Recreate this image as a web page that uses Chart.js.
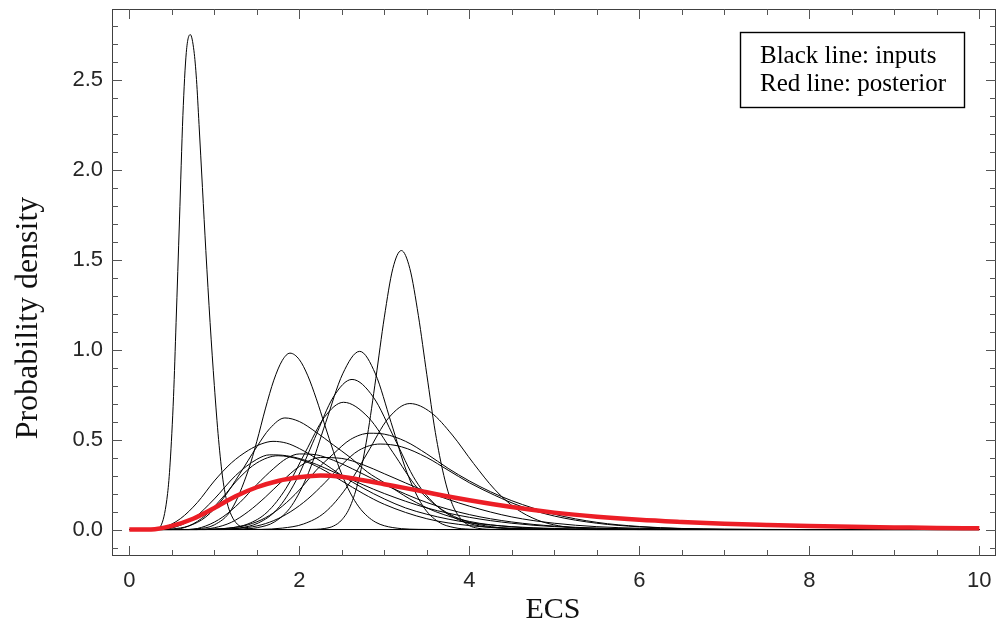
<!DOCTYPE html>
<html>
<head>
<meta charset="utf-8">
<script src="https://cdn.jsdelivr.net/npm/chart.js@4.4.0/dist/chart.umd.min.js"></script>
<style>
html,body{margin:0;padding:0;background:#ffffff;}
canvas{display:block;}
</style>
</head>
<body>
<canvas id="c" width="997" height="623"></canvas>
<script>
// ---------- data ----------
const xTicks = [0, 2, 4, 6, 8, 10];
const xMinorTicks = [0.5, 1, 1.5, 2.5, 3, 3.5, 4.5, 5, 5.5, 6.5, 7, 7.5, 8.5, 9, 9.5];
const yTicks = [0, 0.5, 1, 1.5, 2, 2.5];
const yMinorTicks = [-0.1, 0.1, 0.2, 0.3, 0.4, 0.6, 0.7, 0.8, 0.9, 1.1, 1.2, 1.3, 1.4, 1.6, 1.7, 1.8, 1.9, 2.1, 2.2, 2.3, 2.4, 2.6, 2.7, 2.8];

const xLabel = 'ECS';
const yLabel = 'Probability density';
const legendLines = ['Black line: inputs', 'Red line: posterior'];

const posterior = [[0,0],[0.3,0.002],[0.5,0.02],[0.75,0.06],[1.0,0.12],[1.25,0.185],[1.5,0.235],[1.75,0.27],[2.0,0.29],[2.25,0.30],[2.5,0.293],[2.75,0.274],[3.0,0.252],[3.25,0.23],[3.5,0.207],[3.75,0.184],[4.0,0.163],[4.5,0.125],[5.0,0.094],[5.5,0.071],[6.0,0.054],[6.5,0.042],[7.0,0.032],[7.5,0.025],[8.0,0.019],[8.5,0.015],[9.0,0.012],[9.5,0.009],[10,0.007]];

const inputA = [[0,0],[0.3,0],[0.38,0.03],[0.45,0.2],[0.48,0.37],[0.52,0.74],[0.55,1.15],[0.59,1.72],[0.63,2.3],[0.67,2.65],[0.717,2.75],[0.76,2.66],[0.79,2.5],[0.82,2.25],[0.86,1.9],[0.90,1.55],[0.95,1.15],[1.0,0.8],[1.05,0.5],[1.1,0.28],[1.15,0.15],[1.2,0.08],[1.27,0.03],[1.35,0.01],[1.45,0.002],[1.6,0],[10,0]];
const inputB = [[0,0],[0.6,0],[0.8,0.004],[1.0,0.026],[1.2,0.11],[1.4,0.33],[1.5,0.49],[1.6,0.67],[1.7,0.83],[1.8,0.94],[1.89,0.98],[2.0,0.944],[2.1,0.854],[2.2,0.726],[2.3,0.58],[2.4,0.435],[2.5,0.306],[2.6,0.203],[2.7,0.126],[2.8,0.074],[2.9,0.04],[3.0,0.021],[3.2,0.005],[3.4,0.001],[3.6,0],[10,0]];
const inputC = [[0,0],[0.4,0],[0.5,0.003],[0.7,0.02],[0.9,0.07],[1.1,0.17],[1.3,0.31],[1.5,0.46],[1.65,0.56],[1.83,0.62],[2.0,0.60],[2.2,0.54],[2.4,0.47],[2.6,0.40],[2.8,0.32],[3.0,0.26],[3.3,0.17],[3.6,0.10],[4.0,0.045],[4.5,0.015],[5.0,0.004],[5.5,0.001],[6,0],[10,0]];
const inputD = [[0,0],[0.3,0],[0.4,0.01],[0.6,0.06],[0.8,0.15],[1.0,0.27],[1.2,0.37],[1.4,0.44],[1.55,0.475],[1.69,0.49],[1.85,0.48],[2.0,0.45],[2.25,0.38],[2.5,0.30],[2.75,0.23],[3.0,0.17],[3.25,0.12],[3.5,0.085],[3.75,0.058],[4.0,0.038],[4.5,0.016],[5.0,0.006],[5.5,0.002],[6,0],[10,0]];
const inputE1 = [[0,0],[0.4,0],[0.5,0.008],[0.75,0.06],[1.0,0.17],[1.25,0.30],[1.5,0.39],[1.65,0.415],[1.85,0.41],[2.1,0.38],[2.5,0.30],[3.0,0.20],[3.5,0.12],[4.0,0.068],[4.5,0.035],[5.0,0.016],[5.5,0.007],[6.0,0.003],[7,0],[10,0]];
const inputE2 = [[0,0],[0.7,0],[0.9,0.02],[1.1,0.07],[1.3,0.15],[1.5,0.25],[1.7,0.34],[1.85,0.395],[2.0,0.42],[2.2,0.415],[2.4,0.385],[2.7,0.32],[3.0,0.25],[3.5,0.15],[4.0,0.083],[4.5,0.042],[5.0,0.019],[5.5,0.008],[6.0,0.003],[7,0],[10,0]];
const inputE3 = [[0,0],[0.8,0],[1.0,0.01],[1.2,0.04],[1.4,0.10],[1.6,0.18],[1.8,0.27],[2.0,0.35],[2.25,0.40],[2.5,0.395],[2.75,0.36],[3.0,0.31],[3.5,0.21],[4.0,0.13],[4.5,0.07],[5.0,0.035],[5.5,0.016],[6.0,0.007],[6.5,0.003],[7.5,0],[10,0]];
const inputE4 = [[0,0],[0.5,0],[0.7,0.02],[0.9,0.08],[1.1,0.18],[1.3,0.29],[1.5,0.37],[1.75,0.41],[2.0,0.39],[2.25,0.34],[2.5,0.27],[2.75,0.20],[3.0,0.14],[3.5,0.06],[4.0,0.022],[4.5,0.007],[5.0,0.002],[5.5,0],[10,0]];
const inputF = [[0,0],[2.0,0],[2.2,0.0015],[2.3,0.006],[2.4,0.019],[2.5,0.054],[2.6,0.13],[2.7,0.28],[2.8,0.52],[2.9,0.84],[3.0,1.18],[3.1,1.45],[3.2,1.55],[3.3,1.45],[3.4,1.19],[3.5,0.86],[3.6,0.54],[3.7,0.30],[3.8,0.14],[3.9,0.06],[4.0,0.022],[4.1,0.007],[4.2,0.002],[4.4,0],[10,0]];
const inputG = [[0,0],[1.1,0],[1.31,0.002],[1.51,0.011],[1.71,0.043],[1.91,0.133],[2.11,0.318],[2.31,0.594],[2.51,0.865],[2.71,0.99],[2.895,0.865],[3.08,0.594],[3.265,0.318],[3.45,0.133],[3.635,0.043],[3.82,0.011],[4.005,0.002],[4.2,0],[10,0]];
const inputH = [[0,0],[0.9,0],[1.08,0.0018],[1.30,0.009],[1.52,0.037],[1.74,0.113],[1.96,0.271],[2.18,0.506],[2.40,0.736],[2.62,0.834],[2.87,0.736],[3.12,0.506],[3.37,0.271],[3.62,0.13],[3.87,0.055],[4.12,0.02],[4.37,0.007],[4.8,0.001],[5.2,0],[10,0]];
const inputI = [[0,0],[0.8,0],[0.945,0.0016],[1.17,0.008],[1.395,0.031],[1.62,0.096],[1.845,0.23],[2.07,0.429],[2.295,0.624],[2.52,0.707],[2.81,0.624],[3.10,0.429],[3.39,0.23],[3.68,0.11],[3.97,0.045],[4.26,0.016],[4.55,0.005],[5.0,0.001],[5.4,0],[10,0]];
const inputJ = [[0,0],[1.4,0],[1.55,0.001],[1.8,0.008],[2.05,0.031],[2.3,0.095],[2.55,0.23],[2.8,0.425],[3.05,0.62],[3.3,0.70],[3.55,0.65],[3.8,0.525],[4.05,0.367],[4.3,0.222],[4.55,0.116],[4.8,0.053],[5.05,0.021],[5.3,0.007],[5.8,0.0005],[6.2,0],[10,0]];
const inputK = [[0,0],[0.8,0],[1.0,0.002],[1.2,0.009],[1.4,0.027],[1.6,0.065],[1.8,0.13],[2.0,0.22],[2.2,0.33],[2.4,0.42],[2.6,0.50],[2.83,0.535],[3.0,0.53],[3.25,0.49],[3.5,0.42],[3.75,0.34],[4.0,0.27],[4.25,0.21],[4.5,0.16],[5.0,0.085],[5.5,0.04],[6.0,0.017],[6.5,0.006],[7.0,0.002],[8,0],[10,0]];
const inputL = [[0,0],[0.9,0],[1.1,0.002],[1.3,0.007],[1.5,0.02],[1.7,0.05],[1.9,0.10],[2.1,0.17],[2.3,0.26],[2.5,0.36],[2.7,0.44],[2.95,0.475],[3.2,0.46],[3.5,0.40],[3.75,0.33],[4.0,0.26],[4.3,0.19],[4.6,0.13],[5.0,0.075],[5.5,0.035],[6.0,0.015],[6.5,0.005],[7.0,0.001],[8,0],[10,0]];

const inputs = [inputA, inputB, inputC, inputD, inputE1, inputE2, inputE3, inputE4, inputF, inputG, inputH, inputI, inputJ, inputK, inputL];

// ---------- chart ----------
const toPts = arr => arr.map(p => ({x: p[0], y: p[1]}));

const datasets = [{
  label: 'posterior',
  data: toPts(posterior),
  borderColor: 'rgb(236,30,38)',
  borderWidth: 4.5,
  pointRadius: 0,
  cubicInterpolationMode: 'monotone',
  fill: false
}];
inputs.forEach((c, i) => datasets.push({
  label: 'input ' + (i + 1),
  data: toPts(c),
  borderColor: '#000000',
  borderWidth: 1,
  pointRadius: 0,
  cubicInterpolationMode: 'monotone',
  fill: false
}));

const framePlugin = {
  id: 'frameTicks',
  afterDraw(chart) {
    const {ctx, chartArea: a, scales: {x, y}} = chart;
    ctx.save();
    ctx.strokeStyle = '#404040';
    ctx.lineWidth = 1;
    ctx.strokeRect(a.left + 0.5, a.top + 0.5, a.right - a.left - 1, a.bottom - a.top - 1);
    ctx.strokeStyle = '#555555';
    ctx.beginPath();
    const xt = (vals, len) => vals.forEach(v => {
      const px = Math.round(x.getPixelForValue(v)) + 0.5;
      ctx.moveTo(px, a.bottom); ctx.lineTo(px, a.bottom - len);
      ctx.moveTo(px, a.top); ctx.lineTo(px, a.top + len);
    });
    const yt = (vals, len) => vals.forEach(v => {
      const py = Math.round(y.getPixelForValue(v)) + 0.5;
      ctx.moveTo(a.left, py); ctx.lineTo(a.left + len, py);
      ctx.moveTo(a.right, py); ctx.lineTo(a.right - len, py);
    });
    xt(xTicks, 10); xt(xMinorTicks, 6);
    yt(yTicks, 10); yt(yMinorTicks, 6);
    ctx.stroke();

    // axis titles
    ctx.fillStyle = '#111111';
    ctx.textAlign = 'center';
    ctx.textBaseline = 'alphabetic';
    ctx.font = '30px "Liberation Serif", "Times New Roman", serif';
    ctx.fillText(xLabel, (a.left + a.right) / 2 - 1, 618);
    ctx.save();
    ctx.font = '32px "Liberation Serif", "Times New Roman", serif';
    ctx.translate(37, 318);
    ctx.rotate(-Math.PI / 2);
    ctx.fillText(yLabel, 0, 0);
    ctx.restore();

    // legend box
    ctx.strokeStyle = '#000000';
    ctx.lineWidth = 1.4;
    ctx.strokeRect(740.5, 32.5, 224, 75);
    ctx.font = '25px "Liberation Serif", "Times New Roman", serif';
    ctx.textAlign = 'left';
    ctx.fillStyle = '#000000';
    ctx.fillText(legendLines[0], 760, 63);
    ctx.fillText(legendLines[1], 760, 91);
    ctx.restore();
  }
};

const tickFont = {family: '"Liberation Sans", Arial, sans-serif', size: 22};
const noPad = s => { s.paddingTop = 0; s.paddingBottom = 0; s.paddingLeft = 0; s.paddingRight = 0; };

new Chart(document.getElementById('c'), {
  type: 'line',
  data: {datasets},
  options: {
    responsive: false,
    animation: false,
    devicePixelRatio: 1,
    layout: {padding: {left: 0, top: 9, right: 1, bottom: 0}},
    plugins: {legend: {display: false}, tooltip: {enabled: false}},
    elements: {line: {tension: 0}},
    scales: {
      x: {
        type: 'linear',
        min: -0.204, max: 10.196,
        afterBuildTicks: s => { s.ticks = xTicks.map(v => ({value: v})); },
        afterFit: s => { s.height = 67; noPad(s); },
        grid: {display: false, drawTicks: false},
        border: {display: false},
        ticks: {font: tickFont, color: '#262626', padding: 12, maxRotation: 0, autoSkip: false,
                callback: v => String(v)}
      },
      y: {
        type: 'linear',
        min: -0.147, max: 2.892,
        afterBuildTicks: s => { s.ticks = yTicks.map(v => ({value: v})); },
        afterFit: s => { s.width = 112; noPad(s); },
        grid: {display: false, drawTicks: false},
        border: {display: false},
        ticks: {font: tickFont, color: '#262626', padding: 9, autoSkip: false,
                callback: v => Number(v).toFixed(1)}
      }
    }
  },
  plugins: [framePlugin]
});
</script>
</body>
</html>
